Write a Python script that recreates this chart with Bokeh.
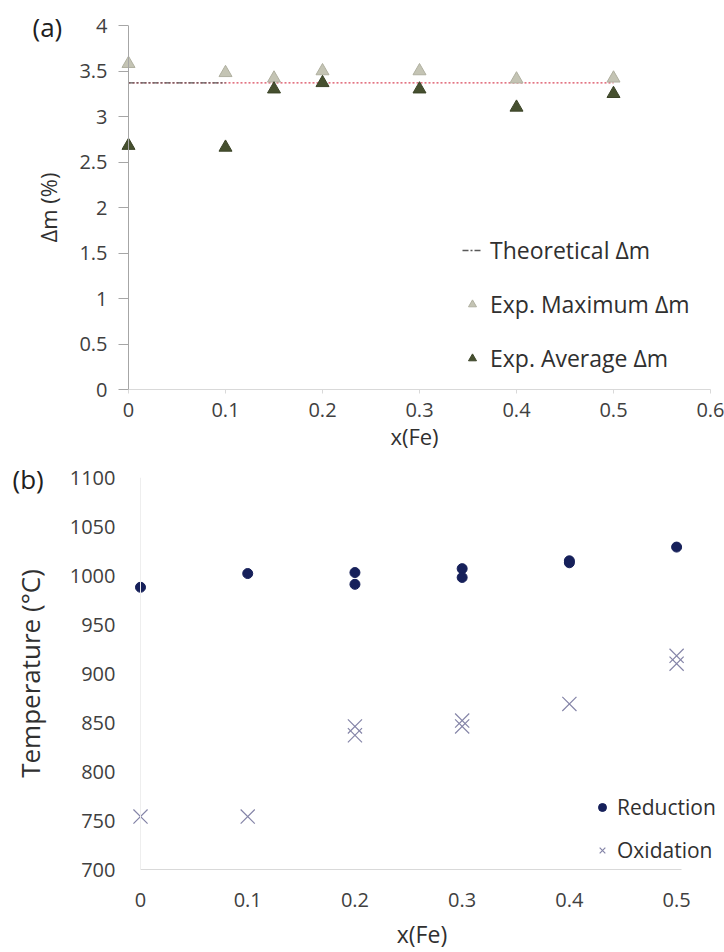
from bokeh.plotting import figure
from bokeh.layouts import column
from bokeh.models import Range1d, FixedTicker, Legend, LegendItem, Span
from bokeh.embed import file_html
from bokeh.resources import INLINE

# ---------------- data: panel (a) ----------------
x_fe_a = [0, 0.1, 0.15, 0.2, 0.3, 0.4, 0.5]
dm_max = [3.58, 3.48, 3.42, 3.50, 3.50, 3.41, 3.42]
dm_avg = [2.68, 2.66, 3.30, 3.37, 3.30, 3.10, 3.25]
dm_theo = [3.37, 3.37, 3.37, 3.37, 3.37, 3.37, 3.37]
a_xticks = [0, 0.1, 0.2, 0.3, 0.4, 0.5, 0.6]
a_xlabels = ["0", "0.1", "0.2", "0.3", "0.4", "0.5", "0.6"]
a_yticks = [0, 0.5, 1, 1.5, 2, 2.5, 3, 3.5, 4]
a_ylabels = ["0", "0.5", "1", "1.5", "2", "2.5", "3", "3.5", "4"]

# ---------------- data: panel (b) ----------------
x_fe_red = [0, 0.1, 0.2, 0.2, 0.3, 0.3, 0.4, 0.4, 0.5]
t_red = [988, 1002, 1003, 991, 1007, 998, 1015, 1013, 1029]
x_fe_ox = [0, 0.1, 0.2, 0.2, 0.3, 0.3, 0.4, 0.5, 0.5]
t_ox = [754, 754, 846, 837, 852, 846, 869, 918, 910]
b_xticks = [0, 0.1, 0.2, 0.3, 0.4, 0.5]
b_xlabels = ["0", "0.1", "0.2", "0.3", "0.4", "0.5"]
b_yticks = [700, 750, 800, 850, 900, 950, 1000, 1050, 1100]
b_ylabels = ["700", "750", "800", "850", "900", "950", "1000", "1050", "1100"]

FONT = "Open Sans"
TICK_COL = "#404040"
TITLE_COL = "#303030"

# ================= panel (a) =================
# small left pad so the markers sitting on x = 0 are not clipped by the frame
a_pad = 10 / 970
p1 = figure(width=724, height=455, x_range=Range1d(-a_pad, 0.6), y_range=Range1d(0, 4),
            output_backend="svg", toolbar_location=None,
            min_border_left=118, min_border_right=14, min_border_top=25, min_border_bottom=66)
p1.frame_align = False
p1.outline_line_color = None
p1.grid.visible = False

p1.title.text = "(a)"
p1.title.align = "left"
p1.title.offset = -86
p1.title.standoff = -39
p1.title.text_font = FONT
p1.title.text_font_size = "26px"
p1.title.text_font_style = "normal"
p1.title.text_color = "#202020"

p1.xaxis.ticker = FixedTicker(ticks=a_xticks)
p1.xaxis.major_label_overrides = dict(zip(a_xticks, a_xlabels))
p1.xaxis.bounds = (0, 0.6)
p1.yaxis.ticker = FixedTicker(ticks=a_yticks)
p1.yaxis.major_label_overrides = dict(zip(a_yticks, a_ylabels))
p1.xaxis.minor_tick_line_color = None
p1.yaxis.minor_tick_line_color = None
p1.xaxis.axis_line_color = "#d9d9d9"
p1.xaxis.major_tick_line_color = "#d9d9d9"
p1.xaxis.major_tick_out = 4
p1.xaxis.major_tick_in = 0
p1.xaxis.major_label_standoff = 9
p1.yaxis.axis_line_color = None
p1.yaxis.major_tick_line_color = "#a6a6a6"
p1.yaxis.major_tick_out = 0
p1.yaxis.major_tick_in = 10
p1.yaxis.major_label_standoff = 11
for ax in (p1.xaxis, p1.yaxis):
    ax.major_label_text_font = FONT
    ax.major_label_text_font_size = "20px"
    ax.major_label_text_color = TICK_COL
    ax.axis_label_text_font = FONT
    ax.axis_label_text_font_style = "normal"
    ax.axis_label_text_font_size = "22px"
    ax.axis_label_text_color = TITLE_COL
p1.xaxis.axis_label = "x(Fe)"
p1.xaxis.axis_label_standoff = 1
p1.yaxis.axis_label = "Δm (%)"
p1.yaxis.axis_label_standoff = 13
p1.add_layout(Span(location=0, dimension="height", line_color="#a6a6a6", line_width=1))

r_theo = p1.line(x_fe_a, dm_theo, line_color="#d9475a", line_dash="2 2", line_width=1.3)
r_theo0 = p1.line(x_fe_a[:2], dm_theo[:2], line_color="#595959", line_dash="6 2 2 2", line_width=1.3)
r_max = p1.scatter(x_fe_a, dm_max, marker="triangle", size=13,
                   fill_color="#c4c4b4", line_color="#b0b0a0")
r_avg = p1.scatter(x_fe_a, dm_avg, marker="triangle", size=13,
                   fill_color="#46502f", line_color="#3c4428")

leg1 = Legend(items=[LegendItem(label="Theoretical Δm", renderers=[r_theo0]),
                     LegendItem(label="Exp. Maximum Δm", renderers=[r_max]),
                     LegendItem(label="Exp. Average Δm", renderers=[r_avg])],
              location=(344, 15), orientation="vertical",
              label_text_font=FONT, label_text_font_size="23px", label_text_color=TITLE_COL,
              label_height=24, glyph_height=24, glyph_width=20, spacing=22,
              label_standoff=8, padding=0, margin=0,
              border_line_color=None, background_fill_alpha=0)
p1.add_layout(leg1, "center")

# ================= panel (b) =================
b_pad = 16 / 1072
p2 = figure(width=724, height=497, x_range=Range1d(-b_pad, 0.54), y_range=Range1d(700, 1100),
            output_backend="svg", toolbar_location=None,
            min_border_left=124, min_border_right=5, min_border_top=22, min_border_bottom=83)
p2.frame_align = False
p2.outline_line_color = None
p2.grid.visible = False

p2.title.text = "(b)"
p2.title.align = "left"
p2.title.offset = -112
p2.title.standoff = -38
p2.title.text_font = FONT
p2.title.text_font_size = "26px"
p2.title.text_font_style = "normal"
p2.title.text_color = "#202020"

p2.xaxis.ticker = FixedTicker(ticks=b_xticks)
p2.xaxis.major_label_overrides = dict(zip(b_xticks, b_xlabels))
p2.xaxis.bounds = (0, 0.505)
p2.yaxis.ticker = FixedTicker(ticks=b_yticks)
p2.yaxis.major_label_overrides = dict(zip(b_yticks, b_ylabels))
p2.xaxis.minor_tick_line_color = None
p2.yaxis.minor_tick_line_color = None
p2.xaxis.major_tick_line_color = None
p2.yaxis.major_tick_line_color = None
p2.xaxis.axis_line_color = "#d9d9d9"
p2.yaxis.axis_line_color = None
p2.xaxis.major_tick_out = 0
p2.yaxis.major_tick_out = 0
p2.xaxis.major_label_standoff = 23
p2.yaxis.major_label_standoff = 9
for ax in (p2.xaxis, p2.yaxis):
    ax.major_label_text_font = FONT
    ax.major_label_text_font_size = "20px"
    ax.major_label_text_color = TICK_COL
    ax.axis_label_text_font = FONT
    ax.axis_label_text_font_style = "normal"
    ax.axis_label_text_color = TITLE_COL
p2.xaxis.axis_label = "x(Fe)"
p2.xaxis.axis_label_text_font_size = "23px"
p2.xaxis.axis_label_standoff = 8
p2.yaxis.axis_label = "Temperature (°C)"
p2.yaxis.axis_label_text_font_size = "26px"
p2.yaxis.axis_label_standoff = 19
p2.add_layout(Span(location=0, dimension="height", line_color="#eeeeee", line_width=1))

r_red = p2.scatter(x_fe_red, t_red, marker="circle", size=10,
                   fill_color="#16205a", line_color="#16205a")
r_ox = p2.scatter(x_fe_ox, t_ox, marker="x", size=20,
                  line_color="#8585a8", line_width=1.2)

leg2 = Legend(items=[LegendItem(label="Reduction", renderers=[r_red]),
                     LegendItem(label="Oxidation", renderers=[r_ox])],
              location=(468, 5), orientation="vertical",
              label_text_font=FONT, label_text_font_size="21px", label_text_color=TITLE_COL,
              label_height=22, glyph_height=22, glyph_width=20, spacing=15,
              label_standoff=5, padding=0, margin=0,
              border_line_color=None, background_fill_alpha=0)
p2.add_layout(leg2, "center")

layout = column(p1, p2, spacing=0)
open("out.html", "w").write(file_html(layout, INLINE))
